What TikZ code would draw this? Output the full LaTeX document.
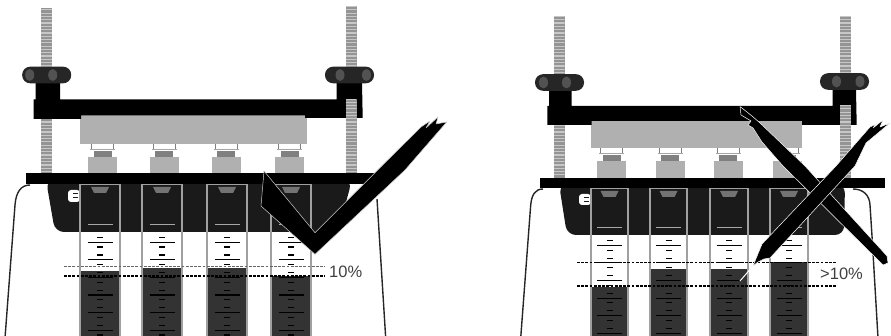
\documentclass[tikz,border=0pt]{standalone}
\usepackage{fontspec}
\setmainfont{Liberation Sans}
\usepackage{tikz}

\definecolor{bodydark}{HTML}{1A1A1A}
\definecolor{liquidgray}{HTML}{333333}
\definecolor{blockgray}{HTML}{B0B0B0}
\definecolor{tubeedge}{HTML}{A0A0A0}

\tikzset{
  frameline/.style={draw=black!85, line width=1.4pt},
  plate/.style={fill=black},
  screwtick/.style={draw=black!22, line width=1.2pt},
  levelline/.style={line width=1.3pt, dash pattern=on 2.8pt off 1.4pt},
  marktext/.style={font=\fontsize{16.5}{18}\selectfont, text=black!75, inner sep=0pt},
  brushmark/.style={fill=black, draw=white!80!black, line width=0.5pt, line join=round}
}

% x, top, bottom
\newcommand{\drawscrew}[3]{
  \fill[black!42] (#1-5.5,#2) rectangle (#1+5.5,#3);
  \begin{scope}
    \clip (#1-5.5,#2) rectangle (#1+5.5,#3);
    \foreach \sy in {0,3.3,...,180}
      \draw[screwtick] (#1-5.5,\sy) -- (#1+5.5,\sy);
  \end{scope}
}
% x, y of the middle, offsets of the two bulges
\newcommand{\drawknob}[4]{
  \fill[black!85, rounded corners=8pt] (#1-24.5,#2-8.3) rectangle (#1+24.5,#2+8.3);
  \fill[black!68] (#1#3,#2) ellipse (4.5 and 6);
  \fill[black!68] (#1#4,#2) ellipse (4.5 and 6);
}
% x, block bottom, plate top
\newcommand{\drawvial}[3]{
  \draw[black!50, line width=0.8pt] (#1-11,#2) -- (#1-11,#2+5) (#1+11,#2) -- (#1+11,#2+5);
  \draw[black!35, line width=0.8pt] (#1-12.5,#2+5.5) -- (#1+12.5,#2+5.5);
  \fill[black!50] (#1-9,#2+7) rectangle (#1+9,#2+13);
  \fill[blockgray] (#1-14.5,#2+13) rectangle (#1+14.5,#3);
}
% x, half width, top, end of dark part, liquid level, first tick
\newcommand{\drawtube}[6]{
  \fill[white] (#1-#2,#4) rectangle (#1+#2,340);
  \fill[bodydark] (#1-#2,#3) rectangle (#1+#2,#4);
  \fill[liquidgray] (#1-#2,#5) rectangle (#1+#2,340);
  \fill[black!55] (#1-9,#3+3) -- (#1+9,#3+3) -- (#1+6,#3+9) -- (#1-6,#3+9) -- cycle;
  \draw[tubeedge, line width=1.2pt] (#1-#2,340) -- (#1-#2,#3) -- (#1+#2,#3) -- (#1+#2,340);
  \draw[black!35, line width=1pt] (#1-12.5,#6) -- (#1+12.5,#6);
  \foreach \k in {1,...,6} {
    \draw[black, line width=1.1pt] (#1-12.5,#6+17.6*\k) -- (#1+12.5,#6+17.6*\k);
    \draw[black, line width=1.1pt] (#1-3,#6+17.6*\k-4.8) -- (#1+3,#6+17.6*\k-4.8);
    \draw[black, line width=1.1pt] (#1-3,#6+17.6*\k+4.8) -- (#1+3,#6+17.6*\k+4.8);
  }
}

\begin{document}
\begin{tikzpicture}[x=1pt, y=-1pt]
  \useasboundingbox (0,0) rectangle (891,336);

  % left panel
  \draw[frameline] (5,338) -- (15,205) .. controls (16,192) and (21,185) .. (30,185);
  \draw[frameline] (385.7,338) -- (377,199);

  \drawscrew{46.5}{8}{173}
  \drawscrew{351}{6}{173}
  \fill[blockgray] (80,115) rectangle (306.7,144);
  \drawvial{102.7}{144}{173}
  \drawvial{164}{144}{173}
  \drawvial{226}{144}{173}
  \drawvial{289.7}{144}{173}

  \fill[plate] (35.5,83) -- (60,83) -- (60,99.5) -- (336.7,99.5) -- (336.7,83) -- (362,83)
    -- (362.7,118) -- (305,118) -- (305,115.5) -- (81,115.5) -- (81,119) -- (33.5,119)
    -- (33.5,99.5) -- (35.5,99.5) -- cycle;
  \drawknob{46.7}{75}{-17}{+6}
  \drawknob{349.5}{75}{-9.5}{+17}
  \drawscrew{351}{100}{118}

  \fill[bodydark, rounded corners=9pt] (46,180) -- (55,232) -- (338,232) -- (352,180) -- cycle;
  \fill[white, rounded corners=3pt] (68,190) rectangle (80,202);
  \draw[bodydark, line width=1pt] (73,194) -- (78,194) (73,198) -- (78,198);
  \drawtube{100}{20}{184}{232}{271}{224.6}
  \drawtube{162}{20}{184}{232}{268}{224.6}
  \drawtube{227}{20}{184}{232}{268}{224.6}
  \drawtube{291}{20}{184}{232}{276}{224.6}
  \fill[plate] (26,173) rectangle (388,184);

  \draw[levelline, black!60] (64,266.7) -- (325,266.7);
  \draw[levelline, black] (64,276) -- (325,276);
  \node[marktext, anchor=west] (leveltenok) at (329,272) {10\%};

  \path[brushmark] (264,171) -- (315,232.7) -- (381.7,166) -- (421,127) -- (430,121)
    -- (426,128) -- (438,117) -- (436,124) -- (446.7,122) -- (405,170) -- (315,254.3)
    -- (261,206) -- cycle;

  % right panel
  \draw[frameline] (520.7,338) -- (530.7,205) .. controls (531.7,195) and (535,189) .. (543,189);
  \draw[frameline] (878,338) -- (872,236) -- (870,205) .. controls (869.5,195) and (863,189) .. (853,189);

  \drawscrew{559}{16}{178}
  \drawscrew{845.5}{16}{178}
  \fill[blockgray] (590.7,121) rectangle (802.3,148);
  \drawvial{611.7}{148}{178}
  \drawvial{670}{148}{178}
  \drawvial{728}{148}{178}
  \drawvial{787}{148}{178}

  \fill[plate] (549,90) -- (571.7,90) -- (571.7,106) -- (832.7,106) -- (832.7,90) -- (856,90)
    -- (856.7,125) -- (802,125) -- (802,121) -- (591.7,121) -- (591.7,125) -- (547.3,125)
    -- (547.3,106) -- (549,106) -- cycle;
  \drawknob{559.5}{82.5}{-16}{+7}
  \drawknob{844.5}{81.5}{-8}{+15.5}
  \drawscrew{845.5}{106}{125}

  \fill[bodydark, rounded corners=9pt] (559,184) -- (567,235) -- (844,235) -- (845,184) -- cycle;
  \fill[white, rounded corners=3pt] (579,194) rectangle (591,205);
  \draw[bodydark, line width=1pt] (584,198) -- (589,198) (584,202) -- (589,202);
  \drawtube{609.5}{18.5}{188}{235}{287}{227.7}
  \drawtube{668.5}{18.5}{188}{235}{269}{227.7}
  \drawtube{729}{19}{188}{235}{269}{227.7}
  \drawtube{789}{19}{188}{235}{262}{227.7}
  \fill[plate] (540,178) rectangle (885,188);

  \draw[levelline, black] (577,262.7) -- (836,262.7);
  \draw[levelline, black] (577,286) -- (836,286);
  \node[marktext, anchor=west] (levelhigh) at (820,274) {>10\%};

  % cross
  \path[brushmark, draw=white] (740,106.5) -- (752,116) -- (760,123) -- (805,166) -- (887,256)
    -- (888,263) -- (883,265) -- (783,166) -- (762,142) -- (753,128) -- (748,125)
    -- (751,121) -- (741,115) -- cycle;
  \path[brushmark, draw=white] (753,266) -- (762,244) -- (836,166) -- (870,127) -- (876,124)
    -- (873,128) -- (883,120) -- (880,127) -- (890,123) -- (866,143) -- (855,166)
    -- (770,258) -- (764,259) -- (758,262) -- cycle;
  \draw[white, line width=1pt] (753,266) -- (740,281);
\end{tikzpicture}
\end{document}
